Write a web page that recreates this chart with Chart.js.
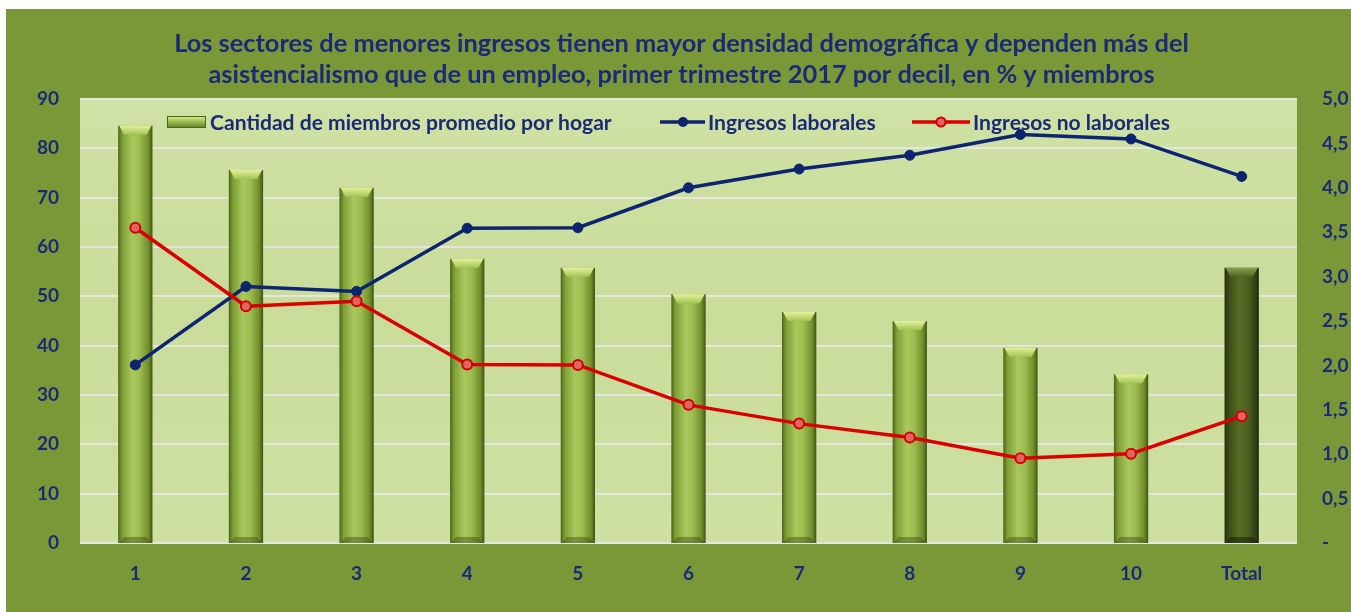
<!DOCTYPE html>
<html>
<head>
<meta charset="utf-8">
<script src="https://cdn.jsdelivr.net/npm/chart.js@4"></script>
<style>
html,body{margin:0;padding:0;background:#fff;overflow:hidden;width:1351px;height:612px;}
#wrap{position:absolute;left:7px;top:10px;width:1350px;height:602px;border-left:1px solid #c9d0d6;border-top:1px solid #c9d0d6;box-sizing:border-box;}
#c{position:absolute;left:6px;top:9px;}
</style>
</head>
<body>
<div id="wrap"></div>
<canvas id="c" width="1351" height="603"></canvas>
<script>
const categories = ['1','2','3','4','5','6','7','8','9','10','Total'];
const miembros = [4.7, 4.2, 4.0, 3.2, 3.1, 2.8, 2.6, 2.5, 2.2, 1.9, 3.1];
const laborales = [36.1, 52.0, 51.0, 63.8, 63.9, 72.0, 75.8, 78.6, 82.8, 81.9, 74.3];
const noLaborales = [63.9, 48.0, 49.0, 36.2, 36.1, 28.0, 24.2, 21.4, 17.2, 18.1, 25.7];
const titleLines = ['Los sectores de menores ingresos tienen mayor densidad demográfica y dependen más del',
                    'asistencialismo que de un empleo, primer trimestre 2017 por decil, en % y miembros'];
const seriesNames = ['Cantidad de miembros promedio por hogar','Ingresos laborales','Ingresos no laborales'];

const NAVY = '#1b2a78';
const FONT = 'Lato, "Open Sans", sans-serif';
const BAR_PCT = 0.31;

const mc = document.createElement('canvas').getContext('2d');
function fitSize(text, target){ mc.font = 'bold 100px ' + FONT; return 100*target/mc.measureText(text).width; }
const titleSize = fitSize(titleLines[0], 1015);
const legendSize = fitSize(seriesNames[0], 402);

function barGradient(ctx, dark){
  const chart = ctx.chart;
  const area = chart.chartArea;
  if(!area || !chart.scales.x) return dark ? '#4f6420' : '#9cbb50';
  const cx = chart.scales.x.getPixelForValue(ctx.dataIndex);
  const w = area.width/categories.length*BAR_PCT;
  const g = chart.ctx.createLinearGradient(cx-w/2,0,cx+w/2,0);
  if(dark){
    g.addColorStop(0,'#26320c'); g.addColorStop(0.15,'#3d4f18'); g.addColorStop(0.45,'#566d24');
    g.addColorStop(0.65,'#4e6420'); g.addColorStop(0.88,'#34451a'); g.addColorStop(1,'#1e280a');
  } else {
    g.addColorStop(0,'#4c6418'); g.addColorStop(0.12,'#7f9e36'); g.addColorStop(0.42,'#a9c95e');
    g.addColorStop(0.62,'#9dbd50'); g.addColorStop(0.88,'#728f2c'); g.addColorStop(1,'#3f5312');
  }
  return g;
}

const bgPlugin = {
  id:'bg',
  beforeDraw(chart){
    const c = chart.ctx, a = chart.chartArea;
    c.save();
    c.fillStyle = '#7a9838';
    c.fillRect(0,0,chart.width,chart.height);
    const g = c.createLinearGradient(0,a.top,0,a.bottom);
    g.addColorStop(0,'#cfe1a4'); g.addColorStop(0.5,'#c9dc9a'); g.addColorStop(1,'#cee1a3');
    c.fillStyle = g;
    c.fillRect(a.left,a.top,a.width,a.height);
    c.restore();
  }
};

const bevelPlugin = {
  id:'bevel',
  afterDatasetDraw(chart,args){
    if(args.index!==0) return;
    const c = chart.ctx;
    args.meta.data.forEach((bar,i)=>{
      const dark = i===categories.length-1;
      const l = bar.x-bar.width/2, r = bar.x+bar.width/2, t = bar.y, h = 9, inset = 6;
      c.save();
      const g = c.createLinearGradient(0,t,0,t+h);
      g.addColorStop(0, dark?'#8ca050':'#e2f29a');
      g.addColorStop(1, dark?'#4f6420':'#a4c356');
      c.fillStyle = g;
      c.beginPath();
      c.moveTo(l+1,t); c.lineTo(r-1,t); c.lineTo(r-inset,t+h); c.lineTo(l+inset,t+h); c.closePath();
      c.fill();
      const b = bar.base;
      c.fillStyle = dark?'rgba(20,28,6,0.5)':'rgba(60,80,20,0.45)';
      c.beginPath();
      c.moveTo(l+inset,b-6); c.lineTo(r-inset,b-6); c.lineTo(r-1,b); c.lineTo(l+1,b); c.closePath();
      c.fill();
      c.restore();
    });
  }
};

const legendPlugin = {
  id:'customLegend',
  afterDraw(chart){
    const c = chart.ctx;
    const y = 113;
    c.save();
    c.font = 'bold ' + legendSize.toFixed(2) + 'px ' + FONT;
    c.fillStyle = NAVY;
    c.textBaseline = 'middle';
    c.textAlign = 'left';
    const g = c.createLinearGradient(0,y-6,0,y+6);
    g.addColorStop(0,'#dcef92'); g.addColorStop(0.4,'#a6c55a'); g.addColorStop(1,'#5d7a20');
    c.fillStyle = g;
    c.fillRect(161,y-6,39,12);
    c.strokeStyle = '#4c6418'; c.lineWidth = 1;
    c.strokeRect(161.5,y-5.5,38,11);
    c.fillStyle = NAVY;
    c.fillText(seriesNames[0], 204, y+1);
    c.strokeStyle = '#0d2470'; c.lineWidth = 3.5;
    c.beginPath(); c.moveTo(654,y); c.lineTo(699,y); c.stroke();
    c.fillStyle = '#0d2470'; c.beginPath(); c.arc(677,y,5,0,Math.PI*2); c.fill();
    c.fillStyle = NAVY;
    c.fillText(seriesNames[1], 702, y+1);
    c.strokeStyle = '#dc0000'; c.lineWidth = 3.5;
    c.beginPath(); c.moveTo(906,y); c.lineTo(964,y); c.stroke();
    c.fillStyle = '#e06464'; c.lineWidth = 2; c.strokeStyle = '#d40000';
    c.beginPath(); c.arc(935,y,4.5,0,Math.PI*2); c.fill(); c.stroke();
    c.fillStyle = NAVY;
    c.fillText(seriesNames[2], 967, y+1);
    c.restore();
  }
};

new Chart(document.getElementById('c'), {
  data:{
    labels: categories,
    datasets:[
      {type:'bar', label:seriesNames[0], data:miembros, yAxisID:'y1', order:3,
       backgroundColor:(ctx)=>barGradient(ctx, ctx.dataIndex===categories.length-1),
       borderWidth:0, barPercentage:BAR_PCT, categoryPercentage:1},
      {type:'line', label:seriesNames[1], data:laborales, yAxisID:'y', order:2,
       borderColor:'#0d2470', backgroundColor:'#0d2470', borderWidth:3.5,
       pointRadius:5, pointBackgroundColor:'#0d2470', pointBorderColor:'#0d2470', pointBorderWidth:1, tension:0},
      {type:'line', label:seriesNames[2], data:noLaborales, yAxisID:'y', order:1,
       borderColor:'#dc0000', backgroundColor:'#e06464', borderWidth:3.5,
       pointRadius:5, pointBackgroundColor:'#e06464', pointBorderColor:'#d40000', pointBorderWidth:2, tension:0}
    ]
  },
  options:{
    responsive:false,
    animation:false,
    devicePixelRatio:1,
    layout:{padding:0},
    plugins:{
      legend:{display:false},
      tooltip:{enabled:false},
      title:{display:true, text:titleLines, color:NAVY,
        font:{family:FONT, size:titleSize, weight:'bold', lineHeight:'31px'},
        padding:{top:19, bottom:9}}
    },
    scales:{
      x:{
        grid:{display:false}, border:{display:false},
        ticks:{color:NAVY, font:{family:FONT, size:19, weight:'bold'}, padding:11, maxRotation:0},
        afterFit:(s)=>{s.height=69;}
      },
      y:{
        position:'left', min:0, max:90,
        grid:{color:'#e4e7e0', lineWidth:2, drawTicks:false}, border:{display:false},
        ticks:{stepSize:10, color:NAVY, font:{family:FONT, size:19, weight:'bold'}, padding:21},
        afterFit:(s)=>{s.width=74;}
      },
      y1:{
        position:'right', min:0, max:5,
        grid:{display:false, drawTicks:false}, border:{display:false},
        ticks:{stepSize:0.5, color:NAVY, font:{family:FONT, size:19, weight:'bold'}, padding:25,
          callback:(v)=> v===0 ? '-' : Number(v).toFixed(1).replace('.',',')},
        afterFit:(s)=>{s.width=60;}
      }
    }
  },
  plugins:[bgPlugin, bevelPlugin, legendPlugin]
});
</script>
</body>
</html>
